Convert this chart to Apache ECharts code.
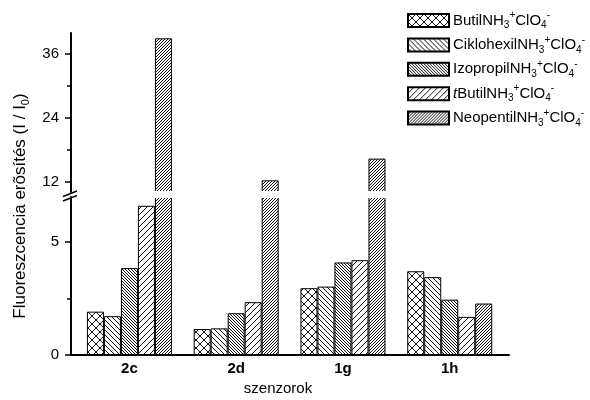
<!DOCTYPE html>
<html>
<head>
<meta charset="utf-8">
<script src="https://cdn.jsdelivr.net/npm/echarts@6/dist/echarts.min.js"></script>
<style>html,body{margin:0;padding:0;background:#fff;}#c{width:590px;height:400px;}</style>
</head>
<body>
<div id="c"></div>
<script>
// ---- data ----
const categories = ['2c', '2d', '1g', '1h'];
const seriesNames = ['Butil', 'Ciklohexil', 'Izopropil', 'tButil', 'Neopentil'];
const butil = [1.92, 1.15, 2.96, 3.71];
const ciklohexil = [1.72, 1.18, 3.03, 3.45];
const izopropil = [3.85, 1.85, 4.10, 2.45];
const tbutil = [6.61, 2.34, 4.20, 1.69];
const neopentil = [39.0, 12.2, 16.3, 2.28];
const lowerTickLabels = [0, 5];
const lowerMinorTicks = [2.5];
const upperTickLabels = [12, 24, 36];
const upperMinorTicks = [18, 30];

const seriesValues = [butil, ciklohexil, izopropil, tbutil, neopentil];

// ---- hatch patterns ----
function makePattern(kind, p) {
  const c = document.createElement('canvas');
  c.width = p; c.height = p;
  const ctx = c.getContext('2d');
  ctx.fillStyle = '#fff';
  ctx.fillRect(0, 0, p, p);
  ctx.strokeStyle = '#111';
  ctx.lineWidth = 1;
  for (let k = -p; k <= p; k += p) {
    if (kind === 'fwd' || kind === 'cross') {
      ctx.beginPath(); ctx.moveTo(k, p); ctx.lineTo(k + p, 0); ctx.stroke();
    }
    if (kind === 'back' || kind === 'cross') {
      ctx.beginPath(); ctx.moveTo(k, 0); ctx.lineTo(k + p, p); ctx.stroke();
    }
  }
  return { image: c, repeat: 'repeat' };
}
const patterns = [
  makePattern('cross', 8),
  makePattern('back', 5),
  makePattern('back', 3),
  makePattern('fwd', 6),
  makePattern('fwd', 3)
];

const legendRich = {
  n: { fontSize: 15, lineHeight: 20, fontFamily: 'Liberation Sans', color: '#000' },
  it: { fontSize: 15, lineHeight: 20, fontStyle: 'italic', fontFamily: 'Liberation Sans', color: '#000' },
  sb: { fontSize: 10, verticalAlign: 'bottom', fontFamily: 'Liberation Sans', color: '#000' },
  sp: { fontSize: 10, verticalAlign: 'top', fontFamily: 'Liberation Sans', color: '#000' }
};
function legendLabel(name) {
  const tail = '{n|NH}{sb|3}{sp|+}{n|ClO}{sb|4}{sp|-}';
  if (name === 'tButil') return '{it|t}{n|Butil}' + tail;
  return '{n|' + name + '}' + tail;
}

const xMin = 0.453, xMax = 4.555;

const series = [];
[0, 1].forEach(function (g) {
  seriesNames.forEach(function (name, i) {
    series.push({
      type: 'bar',
      name: name,
      xAxisIndex: g,
      yAxisIndex: g,
      barWidth: 17,
      barGap: '0%',
      clip: true,
      itemStyle: { color: patterns[i], borderColor: '#000', borderWidth: 1 },
      emphasis: { disabled: true },
      data: seriesValues[i].map(function (v, j) { return [j + 1, v]; })
    });
  });
});

const chart = echarts.init(document.getElementById('c'));
chart.setOption({
  animation: false,
  backgroundColor: '#fff',
  grid: [
    { left: 71, right: 81, top: 33, height: 159 },
    { left: 71, right: 81, top: 197, height: 158 }
  ],
  legend: {
    orient: 'vertical',
    left: 407,
    top: 10.5,
    padding: 0,
    icon: 'rect',
    itemWidth: 41,
    itemHeight: 13,
    itemGap: 4.4,
    data: seriesNames,
    formatter: legendLabel,
    textStyle: { rich: legendRich, fontSize: 15, fontFamily: 'Liberation Sans', padding: [0, 0, 0, -1] },
    selectedMode: false
  },
  xAxis: [
    { type: 'value', gridIndex: 0, min: xMin, max: xMax, show: false },
    {
      type: 'value', gridIndex: 1, min: xMin, max: xMax,
      axisLine: { show: true, lineStyle: { color: '#000', width: 2 } },
      axisTick: { show: false },
      splitLine: { show: false },
      axisLabel: {
        customValues: [1, 2, 3, 4],
        formatter: function (v) { return categories[Math.round(v) - 1]; },
        color: '#000', fontWeight: 'bold', fontSize: 15, fontFamily: 'Liberation Sans', margin: 6
      },
      name: 'szenzorok',
      nameLocation: 'middle',
      nameGap: 26,
      nameTextStyle: { color: '#000', fontSize: 15, fontFamily: 'Liberation Sans', padding: [0, 24, 0, 0] }
    }
  ],
  yAxis: [
    {
      type: 'value', gridIndex: 0, min: 10, max: 40, position: 'left',
      axisLine: { show: true, lineStyle: { color: '#000', width: 2 } },
      axisTick: { show: true, customValues: upperTickLabels, length: 6, lineStyle: { color: '#000', width: 1.5 } },
      axisLabel: { customValues: upperTickLabels, color: '#000', fontSize: 15, fontFamily: 'Liberation Sans', margin: 12 },
      splitLine: { show: false }
    },
    {
      type: 'value', gridIndex: 1, min: 0, max: 7, position: 'left',
      axisLine: { show: true, lineStyle: { color: '#000', width: 2 } },
      axisTick: { show: true, customValues: lowerTickLabels, length: 6, lineStyle: { color: '#000', width: 1.5 } },
      axisLabel: { customValues: lowerTickLabels, color: '#000', fontSize: 15, fontFamily: 'Liberation Sans', margin: 12 },
      splitLine: { show: false }
    },
    {
      type: 'value', gridIndex: 0, min: 10, max: 40, position: 'left', offset: 0,
      axisLine: { show: false },
      axisTick: { show: true, customValues: upperMinorTicks, length: 4, lineStyle: { color: '#000', width: 1.5 } },
      axisLabel: { show: false },
      splitLine: { show: false }
    },
    {
      type: 'value', gridIndex: 1, min: 0, max: 7, position: 'left', offset: 0,
      axisLine: { show: false },
      axisTick: { show: true, customValues: lowerMinorTicks, length: 4, lineStyle: { color: '#000', width: 1.5 } },
      axisLabel: { show: false },
      splitLine: { show: false }
    }
  ],
  graphic: [
    // white band hiding the cut edges of the broken bars
    { type: 'rect', z: 50, silent: true, shape: { x: 78, y: 191, width: 432, height: 7 }, style: { fill: '#fff' } },
    { type: 'line', z: 51, shape: { x1: 63, y1: 196.5, x2: 77, y2: 191 }, style: { stroke: '#000', lineWidth: 1.5 }, silent: true },
    { type: 'line', z: 51, shape: { x1: 63, y1: 201, x2: 77, y2: 195.5 }, style: { stroke: '#000', lineWidth: 1.5 }, silent: true },
    {
      type: 'text', x: 20, y: 206, rotation: Math.PI / 2, silent: true,
      style: {
        text: '{n|Fluoreszcencia erõsítés (I / I}{sb|0}{n|)}',
        align: 'center', verticalAlign: 'middle',
        rich: {
          n: { fontSize: 17, lineHeight: 22, fontFamily: 'Liberation Sans', fill: '#000' },
          sb: { fontSize: 11, verticalAlign: 'bottom', fontFamily: 'Liberation Sans', fill: '#000' }
        }
      }
    }
  ],
  series: series
});
</script>
</body>
</html>
